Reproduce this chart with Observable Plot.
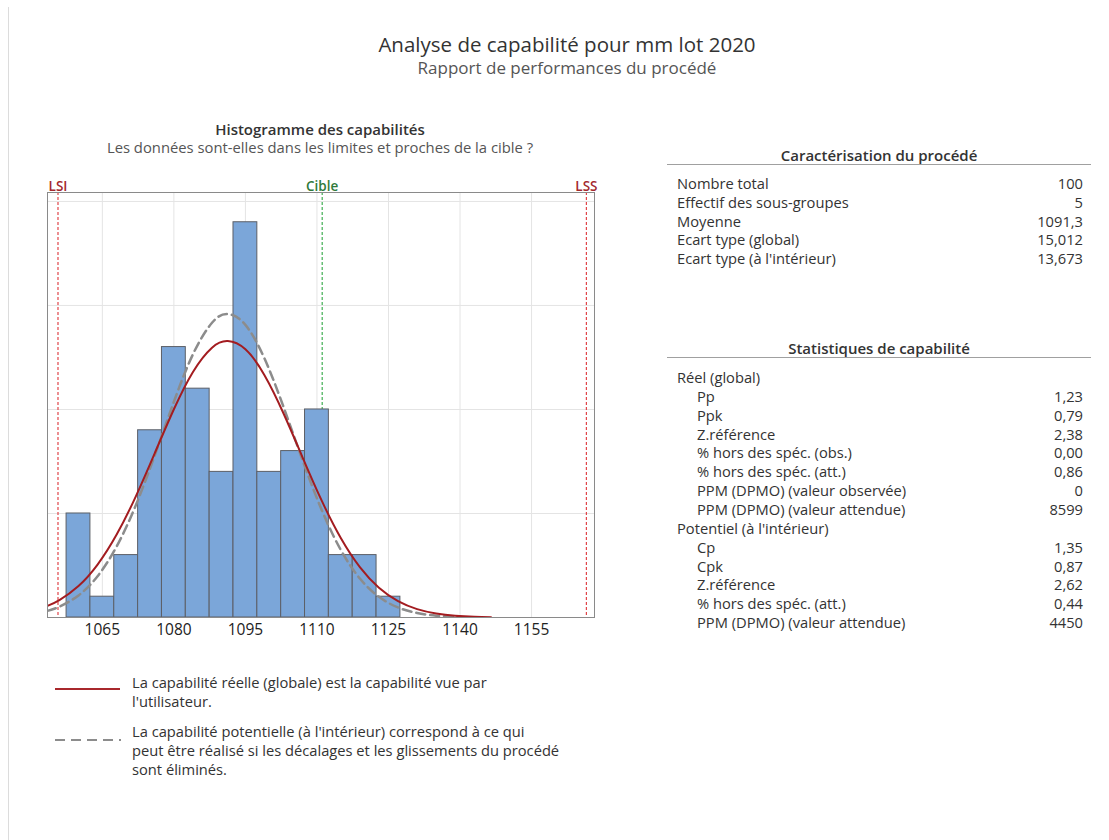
<!DOCTYPE html>
<html><head><meta charset="utf-8">
<script src="https://cdn.jsdelivr.net/npm/d3@7"></script>
<script src="https://cdn.jsdelivr.net/npm/@observablehq/plot@0.6"></script>
<style>
body{margin:0;background:#fff;font-family:"Open Sans","Noto Sans",sans-serif;color:#333;}
#root{position:relative;width:1109px;height:840px;overflow:hidden;background:#fff;}
.t{position:absolute;white-space:nowrap;}
#plot{position:absolute;left:20px;top:165px;}
</style></head><body><div id="root"><div id="plot"></div></div>
<script>
// ---- data ----
const binCenters = [1060,1065,1070,1075,1080,1085,1090,1095,1100,1105,1110,1115,1120,1125];
const binCounts  = [5,1,3,9,13,11,7,19,7,8,10,3,3,1];
const binWidth = 5;
const specNames  = ["LSI","Cible","LSS"];
const specValues = [1055.7,1111.1,1166.5];
const xTicks = [1065,1080,1095,1110,1125,1140,1155];
const yGrid = [5,10,15,20];
// normal fit (global, sigma 15,012), in counts per bin
const overallX = [1053.5,1056,1060,1064,1068,1072,1076,1080,1084,1088,1091.3,1095,1099,1103,1107,1111,1115,1119,1123,1127,1131,1135,1139,1143,1146.5];
const overallY = [0.558,0.837,1.512,2.542,3.985,5.814,7.904,10.009,11.805,12.970,13.287,12.890,11.650,9.807,7.689,5.616,3.821,2.422,1.430,0.786,0.403,0.192,0.085,0.035,0.015];
// normal fit (within, sigma 13,673)
const withinX = [1053.5,1056,1060,1064,1068,1072,1076,1080,1084,1088,1091.3,1095,1099,1103,1107,1111,1115,1119,1123,1127,1131,1135,1139];
const withinY = [0.320,0.521,1.062,1.987,3.415,5.388,7.801,10.369,12.652,14.170,14.589,14.065,12.449,10.116,7.547,5.167,3.248,1.873,0.993,0.483,0.216,0.088,0.033];

const charLabels = ["Nombre total","Effectif des sous-groupes","Moyenne","Ecart type (global)","Ecart type (à l'intérieur)"];
const charValues = ["100","5","1091,3","15,012","13,673"];
const statLabels = ["Réel (global)","Pp","Ppk","Z.référence","% hors des spéc. (obs.)","% hors des spéc. (att.)","PPM (DPMO) (valeur observée)","PPM (DPMO) (valeur attendue)","Potentiel (à l'intérieur)","Cp","Cpk","Z.référence","% hors des spéc. (att.)","PPM (DPMO) (valeur attendue)"];
const statValues = ["","1,23","0,79","2,38","0,00","0,86","0","8599","","1,35","0,87","2,62","0,44","4450"];
const statIndent = [0,1,1,1,1,1,1,1,0,1,1,1,1,1];

// ---- layout helpers ----
const root = document.getElementById("root");
const FS = 14.7;
function txt(s, o){
  const d = document.createElement("div");
  d.className = "t";
  d.textContent = s;
  const fs = o.fs || FS, lh = Math.round(fs*(o.lhr || 1.2));
  d.style.fontSize = fs+"px";
  d.style.lineHeight = lh+"px";
  d.style.top = (o.cy - lh/2)+"px";
  d.style.color = o.color || "#333";
  if (o.bold) d.style.fontWeight = o.bold;
  if (o.align === "center"){ d.style.left = (o.x-400)+"px"; d.style.width="800px"; d.style.textAlign="center"; }
  else if (o.align === "right"){ d.style.left = (o.x-400)+"px"; d.style.width="400px"; d.style.textAlign="right"; }
  else d.style.left = o.x+"px";
  root.appendChild(d);
}
function hline(x1,x2,y,color,w){
  const d = document.createElement("div");
  d.style.position="absolute";
  d.style.left=x1+"px"; d.style.width=(x2-x1)+"px";
  d.style.top=(y - w/2)+"px"; d.style.height="0";
  d.style.borderTop = w+"px solid "+color;
  root.appendChild(d);
}
function swatch(x1,x2,y,color,w,dash){
  const ns="http://www.w3.org/2000/svg";
  const s=document.createElementNS(ns,"svg");
  s.setAttribute("width",x2-x1); s.setAttribute("height",10);
  s.style.position="absolute"; s.style.left=x1+"px"; s.style.top=(y-5)+"px";
  const l=document.createElementNS(ns,"line");
  l.setAttribute("x1",0); l.setAttribute("x2",x2-x1); l.setAttribute("y1",5); l.setAttribute("y2",5);
  l.setAttribute("stroke",color); l.setAttribute("stroke-width",w);
  if (dash) l.setAttribute("stroke-dasharray",dash);
  s.appendChild(l); root.appendChild(s);
}
// left border line
const vb = document.createElement("div");
vb.style.cssText="position:absolute;left:8px;top:7px;width:0;height:840px;border-left:1px solid #dcdcdc;";
root.appendChild(vb);

// titles
txt("Analyse de capabilité pour mm lot 2020",{x:567,cy:44,fs:20.5,lhr:1.1,color:"#333",align:"center"});
txt("Rapport de performances du procédé",{x:567,cy:67,fs:17,lhr:1.1,color:"#555",align:"center"});
txt("Histogramme des capabilités",{x:320,cy:129,fs:15,bold:600,lhr:1.1,color:"#333",align:"center"});
txt("Les données sont-elles dans les limites et proches de la cible ?",{x:320,cy:147,fs:14.8,lhr:1.1,color:"#555",align:"center"});

// tables
txt("Caractérisation du procédé",{x:879,cy:155,fs:15,bold:600,color:"#333",align:"center"});
hline(667,1091,164,"#a0a0a0",1);
charLabels.forEach((l,i)=>{
  const cy = 183 + i*18.75;
  txt(l,{x:677,cy});
  txt(charValues[i],{x:1083,cy,align:"right"});
});
txt("Statistiques de capabilité",{x:879,cy:348,fs:15,bold:600,color:"#333",align:"center"});
hline(667,1091,357,"#a0a0a0",1);
statLabels.forEach((l,i)=>{
  const cy = 377 + i*18.85;
  txt(l,{x:statIndent[i]?697:677,cy});
  if (statValues[i]) txt(statValues[i],{x:1083,cy,align:"right"});
});

// legend
swatch(55,120,689,"#a8282c",2,null);
swatch(55,121,740,"#8c8c8c",2,"10,6");
txt("La capabilité réelle (globale) est la capabilité vue par",{x:132,cy:682});
txt("l'utilisateur.",{x:132,cy:701});
txt("La capabilité potentielle (à l'intérieur) correspond à ce qui",{x:132,cy:731});
txt("peut être réalisé si les décalages et les glissements du procédé",{x:132,cy:750});
txt("sont éliminés.",{x:132,cy:769});

// ---- chart ----
const bins = binCenters.map((c,i)=>({x1:c-binWidth/2, x2:c+binWidth/2, n:binCounts[i]}));
const specs = specNames.map((n,i)=>({name:n, v:specValues[i],
  lab: n==="Cible" ? "#2f7a3b" : "#a3282d",
  line: n==="Cible" ? "#3fae52" : "#e0454a"}));
const overall = overallX.map((x,i)=>({x, y:overallY[i]}));
const within = withinX.map((x,i)=>({x, y:withinY[i]}));

const chart = Plot.plot({
  width: 590, height: 480,
  marginLeft: 27, marginRight: 16, marginTop: 27, marginBottom: 28,
  style:{fontFamily:'"Open Sans","Noto Sans",sans-serif', fontSize:"15.5px", color:"#222", background:"transparent", overflow:"visible"},
  x:{domain:[1053.5,1168.2], ticks:xTicks, tickSize:0, tickPadding:6, label:null, tickFormat:d=>String(d)},
  y:{domain:[0,20.43], axis:null},
  marks:[
    Plot.gridX(xTicks,{stroke:"#e4e4e4", strokeOpacity:1}),
    Plot.gridY(yGrid,{stroke:"#e4e4e4", strokeOpacity:1}),
    Plot.ruleX(specs,{x:"v", stroke:"line", strokeWidth:1.2, strokeDasharray:"3,2"}),
    Plot.rectY(bins,{x1:"x1", x2:"x2", y:"n", fill:"#7ba6d9", stroke:"#5c5f66", strokeWidth:1}),
    Plot.line(within,{x:"x", y:"y", stroke:"#8c8c8c", strokeWidth:2.5, strokeDasharray:"9,5", curve:"natural", clip:true}),
    Plot.line(overall,{x:"x", y:"y", stroke:"#a31c20", strokeWidth:2, curve:"natural", clip:true}),
    Plot.text(specs,{x:"v", text:"name", fill:"lab", frameAnchor:"top", lineAnchor:"bottom", dy:-2, fontSize:13.5, fontWeight:600}),
    Plot.frame({stroke:"#8a8a8a"})
  ]
});
document.getElementById("plot").appendChild(chart);
</script></body></html>
